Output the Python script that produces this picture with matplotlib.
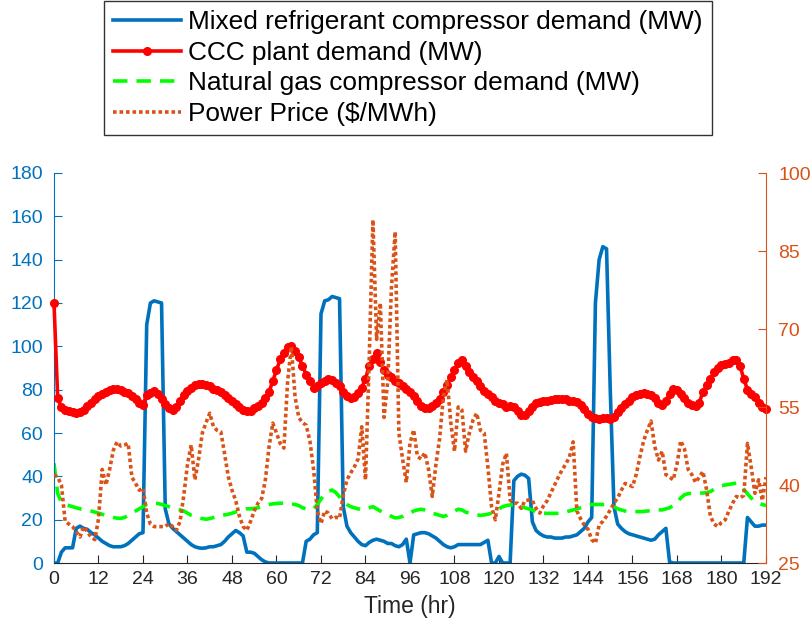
import numpy as np
import matplotlib
matplotlib.use('Agg')
import matplotlib.pyplot as plt

plt.rcParams['font.family'] = ['Liberation Sans', 'DejaVu Sans']

# hourly values, 0..192 hr
hours = np.arange(0, 193)

mr_demand = [
    0, 0, 5, 7, 7, 7, 16, 17, 16, 15.5, 14, 13,
    11.5, 10, 9, 8, 7.5, 7.5, 7.5, 8, 9, 10.5, 12, 13.5,
    14, 110, 120, 121, 120.5, 120, 25, 18, 16, 14.5, 13, 11.5,
    10, 8.5, 7.5, 7, 6.8, 7, 7.5, 7.5, 8, 8.5, 10, 12,
    13.5, 15, 14, 12.5, 5, 5, 4.5, 3, 1.5, 0.5, 0, 0,
    0, 0, 0, 0, 0, 0, 0, 0, 10, 11, 13, 14,
    115, 121, 121.5, 123, 122.5, 122, 26, 17, 14, 12, 10, 8.5,
    8, 9.5, 10.5, 11, 10.5, 10, 9, 9, 8, 7.5, 8.5, 11,
    0, 13, 13.5, 14, 14, 13.5, 12.5, 11.5, 10, 8.5, 7.5, 7,
    7.5, 8.5, 8.5, 8.5, 8.5, 8.5, 8.5, 8.5, 9.5, 10.5, 0, 0,
    3, 0, 0, 0, 38, 40, 41, 40.5, 39, 19, 15, 13.5,
    12.5, 12, 12, 11.5, 11.5, 11.5, 12, 12, 12.5, 13, 14.5, 16,
    19, 21, 120, 140, 146, 145, 80, 26, 18, 16, 14.5, 13.5,
    13, 12.5, 12, 11.5, 11, 10.5, 11, 13, 14.5, 16, 0.5, 0,
    0, 0, 0, 0, 0, 0, 0, 0, 0, 0, 0, 0,
    0, 0, 0, 0, 0, 0, 0, 21, 19, 17, 17, 17.5,
    17.5]

ccc_demand = [
    120, 76, 72, 70.5, 70, 69.5, 69.2, 69.5, 70.5, 72.5, 74, 75.5,
    77, 78, 79, 80, 80.5, 80.5, 80, 79, 78.5, 77, 75.5, 74,
    73, 77.5, 78.5, 79.5, 78, 75.5, 73.5, 71.5, 70.6, 72, 75, 77.5,
    79.5, 81, 82, 82.5, 82.5, 82, 81.5, 80.5, 80, 79, 77.5, 76,
    75, 73.5, 72, 70.5, 70, 70.2, 71.5, 72.5, 74, 76, 79, 84,
    89, 94, 97, 99.5, 100, 98, 95, 91, 87, 84, 81, 81.5,
    83, 84, 85, 84.5, 83, 81.5, 79, 77, 76, 76.5, 78.5, 81,
    85, 91, 94, 96.8, 93, 89, 87, 86, 84, 83, 81.5, 80.5,
    79, 77, 75, 72.5, 71.5, 71.5, 72.5, 74, 75.5, 79, 82, 86,
    89, 92.5, 93.7, 91, 88, 86, 84, 81.5, 79.5, 78, 76.5, 75,
    74, 73.5, 72, 72.5, 72, 70, 68.5, 68.3, 70, 72, 73.7, 74.5,
    74.8, 75, 75.3, 75.5, 75.5, 75.5, 75.5, 75, 74.7, 74.4, 73, 71,
    69, 67.5, 66.8, 66.5, 67, 66.8, 66.5, 67.5, 69.5, 71.5, 73.5, 75,
    76.5, 77.5, 78, 78.3, 78.2, 77.5, 76, 74, 73, 75, 78, 80.5,
    80, 78, 76, 74, 73, 72.5, 74, 79, 82, 85, 88, 90,
    91.5, 92, 92.5, 93.5, 93.5, 91, 85, 80, 78, 76.5, 74, 72,
    71]

ng_demand = [
    46, 32, 28, 27, 26.5, 26, 25.5, 25, 24.7, 24.5, 24, 23.5,
    23, 22.5, 22, 21.5, 21, 20.7, 20.6, 21, 22, 23, 24, 25,
    26, 27, 27.5, 27.6, 27.5, 27, 26.5, 26, 25.5, 25, 24.5, 24,
    23, 22, 21.5, 21, 20.5, 20.2, 20.5, 21, 21.5, 22, 22.2, 22.5,
    23, 23.5, 24, 24.5, 25, 25, 25.2, 25.5, 26, 26.5, 27, 27.3,
    27.5, 27.6, 27.6, 27.6, 27.3, 27, 26.5, 25.5, 25, 24.5, 25, 27,
    29.5, 32, 33, 33.7, 32.5, 30.5, 28.5, 27, 26, 25.5, 25, 24.5,
    25, 25.5, 26, 25, 24, 23, 22.5, 21.5, 20.8, 21, 21.5, 22.5,
    23, 24, 24.5, 24.8, 24.5, 24, 23, 22.5, 22, 21.5, 22, 23,
    24, 24.8, 24.5, 23.5, 23, 22.5, 22.2, 22, 22.2, 22.5, 23, 23.7,
    25, 26, 26.5, 26.8, 26.8, 26.5, 26, 25.5, 25, 24.5, 23.5, 23,
    23, 22.9, 22.9, 22.9, 22.9, 23, 23.5, 24, 24.5, 25, 25.5, 26,
    26.5, 27, 27, 27, 27, 27, 26.8, 26, 25, 24.5, 24, 23.7,
    23.7, 23.7, 23.7, 23.8, 24, 24.2, 24.5, 24.5, 24.5, 25, 25.5, 26.5,
    28, 30, 31.5, 32, 32.2, 32.2, 32.2, 32.3, 32.5, 33, 34, 35,
    35.7, 36, 36.3, 36.6, 36.8, 36, 34, 32, 30, 28.5, 27.6, 27,
    26.5]

price = [
    42, 41.5, 40, 33, 32.5, 32, 31, 30, 32, 31, 30, 29.5,
    33.5, 43, 40, 43, 46.7, 48.3, 47.5, 47.7, 48, 41.5, 40.3, 39,
    39.4, 34.6, 32.5, 32, 32, 32, 32, 32.6, 32, 31.3, 33, 38,
    44, 47.7, 41, 45, 50, 52, 53.8, 51.2, 50.5, 50.2, 46, 41.6,
    39, 37, 34, 32, 31.3, 33, 35, 36.5, 37.4, 41, 47.4, 51.9,
    50, 48, 47.1, 60, 66.6, 57, 53, 52, 51.5, 48.5, 43, 35,
    32.6, 35, 34.6, 33.5, 33.8, 33.6, 38, 41, 42.3, 43.5, 45, 51.2,
    41, 64, 91, 68, 75, 53, 60, 78, 88.7, 50, 45, 40.5,
    48, 50.6, 45.5, 45, 46.2, 43, 37.8, 44, 49, 57, 60.2, 52,
    46.5, 55, 54.4, 46.5, 50, 52.5, 53.8, 50.5, 50, 43.5, 35.8, 33.3,
    38.4, 44, 46.1, 37.1, 36.5, 36.5, 35.5, 37, 37.1, 37, 35.5, 34.6,
    36, 37, 38.5, 40, 41.5, 42.9, 44, 45.4, 48.3, 35, 33.5, 32.3,
    31.5, 29.5, 28.8, 32.3, 33, 34, 35.2, 36.5, 37.5, 39, 40.3, 40,
    39.7, 42, 45.4, 48.5, 50.5, 52.3, 47.4, 44.8, 46.5, 42, 41.5, 41,
    44, 48.5, 47, 43, 42, 40.5, 41.5, 42.6, 39, 34, 32.5, 32,
    32.8, 33.3, 35, 36.5, 37.8, 37.5, 38, 48, 43.5, 38.4, 41, 37,
    41.5]

x_ticks = list(range(0, 193, 12))
left_ticks = list(range(0, 181, 20))
right_ticks = [25, 40, 55, 70, 85, 100]

labels = ['Mixed refrigerant compressor demand (MW)',
          'CCC plant demand (MW)',
          'Natural gas compressor demand (MW)',
          'Power Price ($/MWh)']

blue = '#0072BD'
orange = '#D95319'
dark = '#262626'

fig = plt.figure(figsize=(8.12, 6.32), dpi=100)
ax = fig.add_axes([54/812, 69/632, 712/812, 390/632])
l1, = ax.plot(hours, mr_demand, color=blue, lw=2.6, label=labels[0])
l2, = ax.plot(hours, ccc_demand, color='red', lw=2.6, marker='.', ms=11,
              label=labels[1], zorder=3, clip_on=False)
l3, = ax.plot(hours, ng_demand, color='#00FF00', lw=2.6, ls=(0, (4, 2.5)), label=labels[2])
ax.set_xlim(0, 192)
ax.set_ylim(0, 180)
ax.set_xticks(x_ticks)
ax.set_yticks(left_ticks)
ax.set_xlabel('Time (hr)', fontsize=16.5, color=dark, labelpad=5)

ax2 = ax.twinx()
l4, = ax2.plot(hours, price, color=orange, lw=2.6, ls=(0, (1, 0.8)), label=labels[3])
ax2.set_ylim(25, 100)
ax2.set_yticks(right_ticks)

for a in (ax, ax2):
    a.spines['top'].set_visible(False)
    a.spines['bottom'].set_color(dark)
    a.spines['left'].set_color(blue)
    a.spines['right'].set_color(orange)
    a.tick_params(direction='in', length=6, labelsize=14)
ax.spines['right'].set_visible(False)
ax2.spines['left'].set_visible(False)
ax2.spines['bottom'].set_visible(False)
ax.tick_params(axis='x', colors=dark, labelcolor=dark, pad=6)
ax.tick_params(axis='y', colors=blue, labelcolor=blue, pad=8)
ax2.tick_params(axis='y', colors=orange, labelcolor=orange, pad=9)

leg = fig.legend(handles=[l1, l2, l3, l4], loc='upper center',
                 bbox_to_anchor=(408/812, 1 - 1/632), fontsize=18.9,
                 frameon=True, fancybox=False, handlelength=2.6,
                 borderaxespad=0, borderpad=0.35, labelspacing=0.25,
                 handletextpad=0.27)
leg.get_frame().set_edgecolor('black')
leg.get_frame().set_linewidth(1.0)

fig.savefig('out.png', dpi=100)
